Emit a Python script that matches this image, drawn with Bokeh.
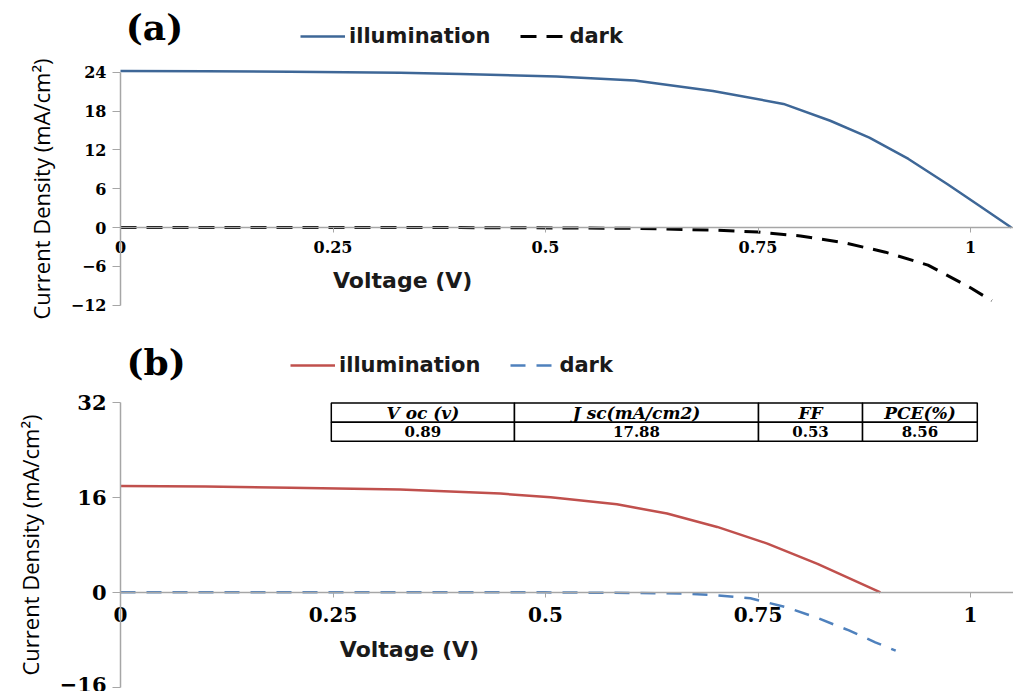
from bokeh.plotting import figure
from bokeh.models import FixedTicker, Legend, LegendItem, Label, NumeralTickFormatter
from bokeh.layouts import column
from bokeh.embed import file_html
from bokeh.resources import INLINE
from bokeh.core.properties import value

# ---------------- data ----------------
# panel (a)
va_light = [0.0, 0.1, 0.2, 0.329, 0.4, 0.513, 0.605, 0.697, 0.78, 0.835, 0.881, 0.927, 0.973, 1.01, 1.048]
ja_light = [24.2, 24.15, 24.05, 23.9, 23.7, 23.35, 22.7, 21.1, 19.1, 16.5, 13.9, 10.6, 6.7, 3.4, 0.0]
va_dark = [0.0, 0.2, 0.4, 0.6, 0.7, 0.75, 0.8, 0.85, 0.9, 0.95, 1.0, 1.025]
ja_dark = [0.0, 0.0, 0.0, -0.1, -0.4, -0.7, -1.3, -2.3, -3.8, -5.8, -9.3, -11.3]

# panel (b)
vb_light = [0.0, 0.1, 0.2, 0.329, 0.447, 0.506, 0.584, 0.643, 0.702, 0.761, 0.82, 0.894]
jb_light = [17.9, 17.8, 17.6, 17.3, 16.6, 16.0, 14.8, 13.25, 11.0, 8.2, 4.8, 0.0]
vb_dark = [0.0, 0.3, 0.5, 0.6, 0.663, 0.702, 0.741, 0.783, 0.818, 0.857, 0.888, 0.912]
jb_dark = [0.0, 0.0, 0.0, -0.1, -0.2, -0.5, -1.0, -2.5, -4.2, -6.4, -8.4, -9.8]

x_ticks = [0, 0.25, 0.5, 0.75, 1]
ya_ticks = [-12, -6, 0, 6, 12, 18, 24]
yb_ticks = [-16, 0, 16, 32]

table_headers = ["V oc (v)", "J sc(mA/cm2)", "FF", "PCE(%)"]
table_values = ["0.89", "17.88", "0.53", "8.56"]
# table layout (in axis units of panel b)
table_col_edges = [0.248, 0.4635, 0.7506, 0.873, 1.008]
table_row_edges = [31.85, 28.6, 25.4]

AXIS_GRAY = "#a6a6a6"
SERIF = "DejaVu Serif"
SANS = "DejaVu Sans"
X_RANGE = (-120 / 850, 893 / 850)


def make_fig(height, y_range, y_bounds, y_ticks, tick_size, xtick_size, xstandoff):
    p = figure(width=1013, height=height, x_range=X_RANGE, y_range=y_range,
               output_backend="svg", toolbar_location=None,
               min_border_left=0, min_border_right=0,
               min_border_top=0, min_border_bottom=0)
    p.outline_line_color = None
    p.xgrid.visible = False
    p.ygrid.visible = False
    p.background_fill_color = "white"
    p.border_fill_color = "white"

    xa = p.xaxis[0]
    xa.fixed_location = 0
    xa.bounds = (0, 1.1)
    xa.ticker = FixedTicker(ticks=x_ticks)
    xa.formatter = NumeralTickFormatter(format="0.[00]")
    xa.axis_line_color = AXIS_GRAY
    xa.axis_line_width = 1.5
    xa.major_tick_line_color = AXIS_GRAY
    xa.major_tick_in = 0
    xa.major_tick_out = 5
    xa.minor_tick_line_color = None
    xa.major_label_text_font = SERIF
    xa.major_label_text_font_style = "bold"
    xa.major_label_text_font_size = xtick_size
    xa.major_label_text_color = "black"
    xa.major_label_standoff = xstandoff

    ya = p.yaxis[0]
    ya.fixed_location = 0
    ya.bounds = y_bounds
    ya.ticker = FixedTicker(ticks=y_ticks)
    ya.axis_line_color = AXIS_GRAY
    ya.axis_line_width = 1.5
    ya.major_tick_line_color = AXIS_GRAY
    ya.major_tick_in = 0
    ya.major_tick_out = 8
    ya.minor_tick_line_color = None
    ya.major_label_text_font = SERIF
    ya.major_label_text_font_style = "bold"
    ya.major_label_text_font_size = tick_size
    ya.major_label_text_color = "black"
    ya.major_label_standoff = 6
    ya.axis_label = "Current Density (mA/cm²)"
    ya.axis_label_text_font = "Open Sans"
    ya.axis_label_text_font_style = "normal"
    ya.axis_label_text_font_size = "22px"
    ya.axis_label_text_color = "black"
    ya.axis_label_standoff = 12
    return p


def add_legend(p, r1, r2, vx, vy):
    leg = Legend(items=[LegendItem(label="illumination", renderers=[r1]),
                        LegendItem(label="dark", renderers=[r2])],
                 orientation="horizontal", location=(vx, vy),
                 background_fill_alpha=0, border_line_color=None,
                 padding=0, margin=0, spacing=30, label_standoff=4,
                 glyph_width=45, glyph_height=24, label_height=24,
                 label_text_font=SANS, label_text_font_style="bold",
                 label_text_font_size="21px", label_text_color="#1a1a1a")
    p.add_layout(leg, "center")


# ---------------- panel (a) ----------------
pa = make_fig(338, (-17.13, 35.07), (-12, 24), ya_ticks, "16px", "16px", 8)
ra1 = pa.line(va_light, ja_light, line_color="#3e6797", line_width=2.5)
ra2 = pa.line(va_dark, ja_dark, line_color="black", line_width=3, line_dash="16 10")
add_legend(pa, ra1, ra2, 300, 290)
pa.add_layout(Label(x=0.04, y=31.0, text="(a)", text_font=SERIF, text_font_style="bold",
                    text_font_size="36px", text_align="center", text_baseline="middle",
                    text_color="black"))
pa.add_layout(Label(x=0.332, y=-8.2, text="Voltage (V)", text_font=SANS, text_font_style="bold",
                    text_font_size="22px", text_align="center", text_baseline="middle",
                    text_color="#1a1a1a"))

# ---------------- panel (b) ----------------
pb = make_fig(353, (-16.67, 42.68), (-16, 32), yb_ticks, "21px", "20px", 10)
rb1 = pb.line(vb_light, jb_light, line_color="#c0504d", line_width=2.5)
rb2 = pb.line(vb_dark, jb_dark, line_color="#4f81bd", line_width=2.5, line_dash="15 11")
add_legend(pb, rb1, rb2, 290, 314)
pb.add_layout(Label(x=0.042, y=38.8, text="(b)", text_font=SERIF, text_font_style="bold",
                    text_font_size="36px", text_align="center", text_baseline="middle",
                    text_color="black"))
pb.add_layout(Label(x=0.34, y=-9.6, text="Voltage (V)", text_font=SANS, text_font_style="bold",
                    text_font_size="22px", text_align="center", text_baseline="middle",
                    text_color="#1a1a1a"))

# table
lefts, rights, tops, bottoms = [], [], [], []
for r in range(len(table_row_edges) - 1):
    for c in range(len(table_col_edges) - 1):
        lefts.append(table_col_edges[c])
        rights.append(table_col_edges[c + 1])
        tops.append(table_row_edges[r])
        bottoms.append(table_row_edges[r + 1])
pb.quad(left=lefts, right=rights, top=tops, bottom=bottoms, fill_color="white",
        line_color="black", line_width=1.5)
centers = [(table_col_edges[i] + table_col_edges[i + 1]) / 2 for i in range(len(table_headers))]
hy = (table_row_edges[0] + table_row_edges[1]) / 2
vy_ = (table_row_edges[1] + table_row_edges[2]) / 2
pb.text(x=centers, y=[hy] * len(centers), text=table_headers, text_font=value(SERIF),
        text_font_style="bold italic", text_font_size="17px", text_align="center",
        text_baseline="middle", text_color="black")
pb.text(x=centers, y=[vy_] * len(centers), text=table_values, text_font=value(SERIF),
        text_font_style="bold", text_font_size="15px", text_align="center",
        text_baseline="middle", text_color="black")

layout = column(pa, pb, spacing=0)
open("out.html", "w").write(file_html(layout, INLINE))
